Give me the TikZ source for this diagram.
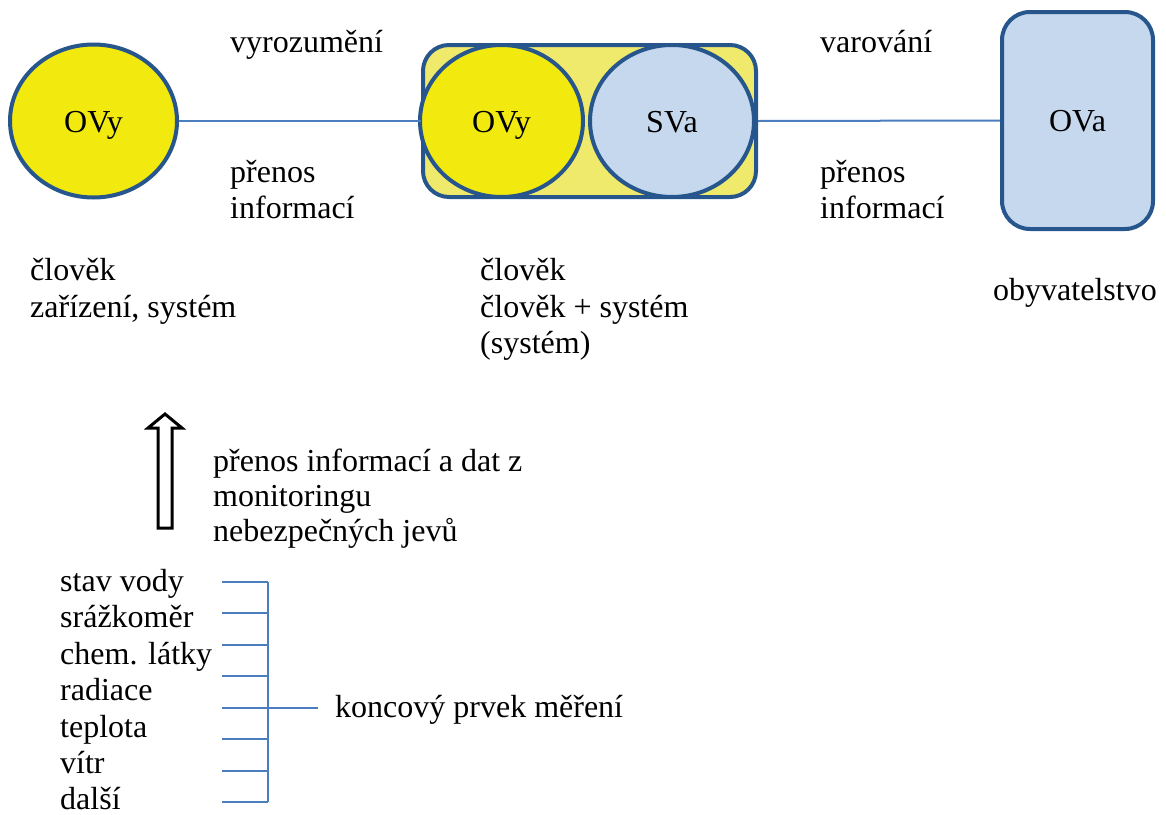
\documentclass[tikz,border=0pt]{standalone}
\usepackage{fontspec}
\setmainfont{Liberation Serif}
\usetikzlibrary{shapes.geometric}
\definecolor{edgeblue}{RGB}{38,86,140}
\definecolor{linkblue}{RGB}{74,126,190}
\definecolor{sunyellow}{RGB}{242,234,14}
\definecolor{paleyellow}{RGB}{240,234,108}
\definecolor{skyblue}{RGB}{197,216,238}
\begin{document}
\begin{tikzpicture}[x=1pt,y=-1pt,
  lbl/.style={anchor=base west,inner sep=0pt,font=\fontsize{32}{36}\selectfont},
  inlbl/.style={font=\fontsize{32}{36}\selectfont,inner sep=0pt,text height=22pt,text depth=0pt},
  oval/.style={ellipse,draw=edgeblue,line width=4pt,inlbl},
  box/.style={rectangle,rounded corners=26pt,draw=edgeblue,line width=4pt,inlbl},
  link/.style={draw=linkblue,line width=2pt},
  tick/.style={draw=linkblue,line width=2pt}]
\useasboundingbox (0,0) rectangle (1166,814);

% shapes of the top row
\node[oval,fill=sunyellow,minimum width=167pt,minimum height=153pt] (ovy1) at (93.5,121) {OVy};
\node[box,fill=paleyellow,minimum width=333pt,minimum height=152pt] (mid) at (589.5,121) {};
\node[oval,fill=sunyellow,minimum width=163pt,minimum height=152pt] (ovy2) at (501.5,121) {OVy};
\node[oval,fill=skyblue,minimum width=164pt,minimum height=152pt] (sva) at (672,121) {SVa};
\node[box,fill=skyblue,minimum width=151pt,minimum height=217pt,rounded corners=28pt] (ova) at (1077.5,120.5) {OVa};

% connectors between the top shapes
\draw[link] (ovy1.east) -- (mid.west);
\draw[link] (mid.east) -- (ova.west);

% labels of the connectors
\node[lbl] (l1) at (230,52) {vyrozumění};
\node[lbl] (l2) at (230,182) {přenos};
\node[lbl] (l3) at (230,218) {informací};
\node[lbl] (r1) at (820,52) {varování};
\node[lbl] (r2) at (820,182) {přenos};
\node[lbl] (r3) at (820,218) {informací};

% captions under the shapes
\node[lbl] (c1) at (30,280) {člověk};
\node[lbl] (c2) at (30,317) {zařízení, systém};
\node[lbl] (m1) at (480,280) {člověk};
\node[lbl] (m2) at (480,317) {člověk + systém};
\node[lbl] (m3) at (480,353) {(systém)};
\node[lbl] (o1) at (993,300) {obyvatelstvo};

% hollow upward arrow
\draw[line width=3pt,fill=white,line join=miter]
  (165,414) -- (182,428) -- (172,428) -- (172,528) -- (158,528) -- (158,428) -- (148,428) -- cycle;
\node[lbl] (a1) at (213,471) {přenos informací a dat z};
\node[lbl] (a2) at (213,506) {monitoringu};
\node[lbl] (a3) at (213,541) {nebezpečných jevů};

% measured quantities
\node[lbl] (q1) at (60,591) {stav vody};
\node[lbl] (q2) at (60,627.5) {srážkoměr};
\node[lbl] (q3) at (60,664) {chem. látky};
\node[lbl] (q4) at (60,700.5) {radiace};
\node[lbl] (q5) at (60,737) {teplota};
\node[lbl] (q6) at (60,773.5) {vítr};
\node[lbl] (q7) at (60,809.5) {další};

% bracket joining the quantities
\foreach \i/\yy in {1/582,2/613.4,3/644.9,4/676.3,5/707.7,6/739.1,7/770.6,8/802}{
  \coordinate (s\i) at (222,\yy);
  \coordinate (b\i) at (268,\yy);
  \draw[tick] (s\i) -- (b\i);
}
\draw[tick] (b1) -- (b8);
\coordinate (bend) at (318,707.7);
\draw[tick] (b5) -- (bend);
\node[lbl] (k1) at (335,717) {koncový prvek měření};
\end{tikzpicture}
\end{document}
